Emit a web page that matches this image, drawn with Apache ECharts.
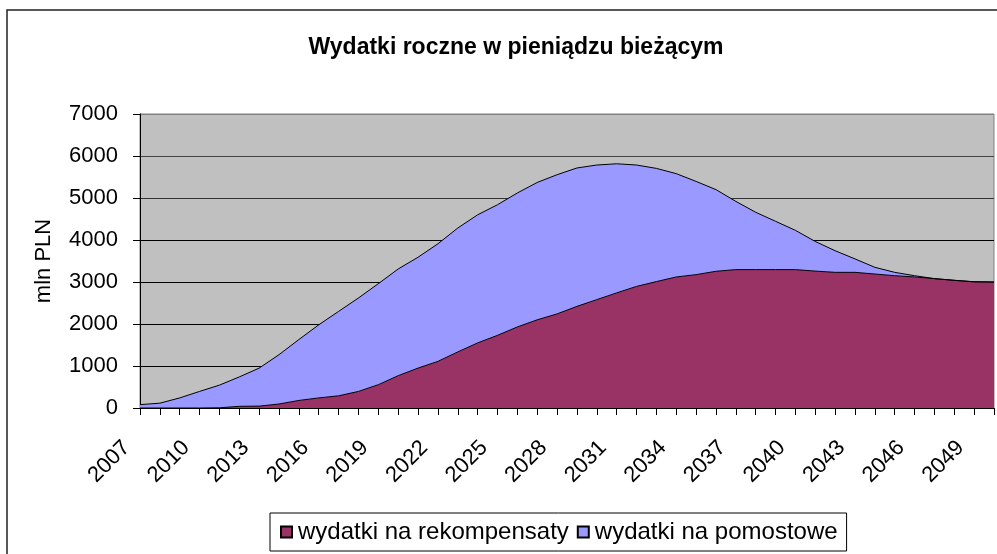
<!DOCTYPE html>
<html>
<head>
<meta charset="utf-8">
<script src="https://cdn.jsdelivr.net/npm/echarts@6/dist/echarts.min.js"></script>
<style>
  html, body { margin: 0; padding: 0; background: #fff; }
  #chart { width: 997px; height: 554px; }
</style>
</head>
<body>
<div id="chart"></div>
<script>
// lata 2007-2050
const years = [];
for (let y = 2007; y <= 2050; y++) years.push(String(y));

// wydatki na rekompensaty (mln PLN)
const rekompensaty = [
  0, 0, 0, 0, 5, 40, 45, 95, 180, 240,
  290, 395, 555, 770, 950, 1110, 1335, 1550, 1730, 1930,
  2100, 2240, 2420, 2580, 2740, 2895, 3010, 3120, 3175, 3255,
  3295, 3295, 3295, 3295, 3260, 3230, 3230, 3190, 3150, 3120,
  3080, 3040, 3005, 3000
];

// wydatki na pomostowe (mln PLN)
const pomostowe = [
  80, 115, 240, 395, 540, 700, 905, 1175, 1450, 1740,
  2010, 2225, 2405, 2540, 2640, 2800, 2950, 3050, 3110, 3190,
  3270, 3315, 3295, 3205, 3075, 2890, 2695, 2460, 2220, 1945,
  1625, 1365, 1150, 935, 705, 515, 320, 160, 80, 30,
  0, 0, 0, 0
];

const font = '"Liberation Sans", Arial, sans-serif';
const chart = echarts.init(document.getElementById('chart'));

const option = {
  animation: false,
  textStyle: { fontFamily: font },
  title: {
    text: 'Wydatki roczne w pieniądzu bieżącym',
    left: 511,
    textAlign: 'center',
    top: 31,
    textStyle: { fontSize: 23, fontWeight: 'bold', color: '#000', fontFamily: font }
  },
  graphic: [
    {
      type: 'rect',
      shape: { x: 7, y: 10, width: 1010, height: 570 },
      style: { fill: 'none', stroke: '#222', lineWidth: 1.5 },
      silent: true
    }
  ],
  legend: {
    left: 270,
    top: 513,
    padding: [7, 9, 7, 10],
    itemGap: 8,
    itemWidth: 11,
    itemHeight: 11,
    icon: 'rect',
    borderColor: '#000',
    borderWidth: 1,
    textStyle: { fontSize: 24, color: '#000', fontFamily: font, padding: [0, 0, 0, 1] },
    data: ['wydatki na rekompensaty', 'wydatki na pomostowe']
  },
  grid: {
    left: 140,
    right: 3,
    top: 114,
    bottom: 146,
    show: true,
    backgroundColor: '#C0C0C0',
    borderColor: '#808080',
    borderWidth: 1
  },
  xAxis: {
    type: 'category',
    data: years,
    boundaryGap: false,
    axisLine: { lineStyle: { color: '#000', width: 1 } },
    axisTick: { interval: 0, length: 7, lineStyle: { color: '#000' } },
    axisLabel: {
      interval: 2,
      rotate: 45,
      margin: 23,
      padding: [0, 19, 0, 0],
      fontSize: 22,
      color: '#000',
      fontFamily: font
    }
  },
  yAxis: {
    type: 'value',
    min: 0,
    max: 7000,
    interval: 1000,
    name: 'mln PLN',
    nameLocation: 'middle',
    nameGap: 85,
    nameTextStyle: { fontSize: 22, color: '#000', fontFamily: font },
    axisLine: { show: true, lineStyle: { color: '#000', width: 1 } },
    axisTick: { show: true, length: 7, lineStyle: { color: '#000' } },
    axisLabel: {
      margin: 22,
      fontSize: 22,
      color: '#000',
      fontFamily: font,
      formatter: v => String(v)
    },
    splitLine: {
      show: true,
      lineStyle: {
        color: ['#000', '#000', '#000', '#000', '#000', '#333', '#444', '#808080'],
        width: 1
      }
    }
  },
  series: [
    {
      name: 'wydatki na rekompensaty',
      type: 'line',
      stack: 'total',
      data: rekompensaty,
      symbol: 'none',
      itemStyle: { color: '#993366', borderColor: '#000', borderWidth: 1 },
      lineStyle: { color: '#000', width: 1 },
      areaStyle: { color: '#993366', opacity: 1 }
    },
    {
      name: 'wydatki na pomostowe',
      type: 'line',
      stack: 'total',
      data: pomostowe,
      symbol: 'none',
      itemStyle: { color: '#9999FF', borderColor: '#000', borderWidth: 1 },
      lineStyle: { color: '#000', width: 1 },
      areaStyle: { color: '#9999FF', opacity: 1 }
    }
  ]
};

chart.setOption(option);
</script>
</body>
</html>
